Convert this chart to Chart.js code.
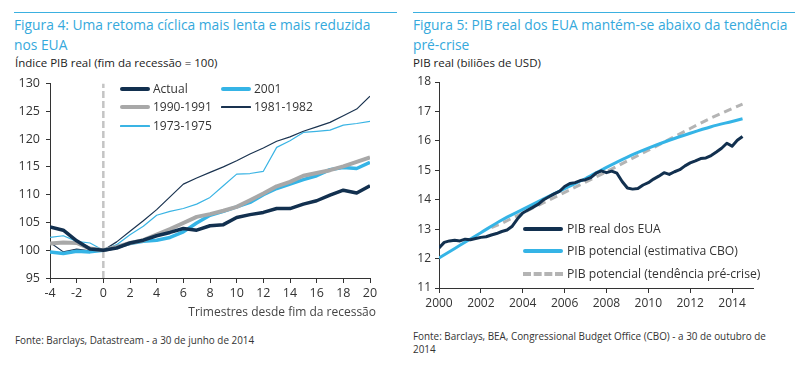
<!DOCTYPE html>
<html>
<head>
<meta charset="utf-8">
<script src="https://cdn.jsdelivr.net/npm/chart.js@4/dist/chart.umd.min.js"></script>
<style>
  html, body { margin: 0; padding: 0; background: #fff; }
  body { width: 803px; height: 366px; position: relative; overflow: hidden; font-family: "Open Sans", "Noto Sans", sans-serif; color: #333; }
  .abs { position: absolute; white-space: nowrap; }
  .rule { position: absolute; height: 1px; background: #3bb0e0; }
  .title { position: absolute; font-size: 13.8px; line-height: 20px; color: #35a9dc; white-space: nowrap; }
  .sub { position: absolute; font-size: 11.5px; color: #222; white-space: nowrap; }
  .src { position: absolute; font-size: 9.9px; color: #333; line-height: 13px; white-space: nowrap; }
  .leg { position: absolute; font-size: 12px; color: #333; white-space: nowrap; line-height: 16px; }
  .sw { position: absolute; }
  canvas { position: absolute; }
</style>
</head>
<body>
<div class="rule" style="left:14px; top:12px; width:383px;"></div>
<div class="rule" style="left:413px; top:12px; width:382px;"></div>

<div class="title" style="left:14px; top:15px;">Figura 4: Uma retoma cíclica mais lenta e mais reduzida<br>nos EUA</div>
<div class="title" style="left:413px; top:15px;">Figura 5: PIB real dos EUA mantém-se abaixo da tendência<br>pré-crise</div>

<div class="sub" style="left:15px; top:55px;">Índice PIB real (fim da recessão = 100)</div>
<div class="sub" style="left:413px; top:55px;">PIB real (biliões de USD)</div>

<canvas id="c1" width="400" height="245" style="left:0px; top:70px;"></canvas>
<canvas id="c2" width="403" height="245" style="left:400px; top:70px;"></canvas>

<div class="abs" style="right:427px; top:303px; font-size:12px; color:#444;">Trimestres desde fim da recessão</div>

<div class="src" style="left:15px; top:334px;">Fonte: Barclays, Datastream - a 30 de junho de 2014</div>
<div class="src" style="left:413px; top:330px;">Fonte: Barclays, BEA, Congressional Budget Office (CBO) - a 30 de outubro de<br>2014</div>

<div id="leg1"></div>
<div id="leg2"></div>

<script>
// ---------- Figure 4 data ----------
const quarters = [-4,-3,-2,-1,0,1,2,3,4,5,6,7,8,9,10,11,12,13,14,15,16,17,18,19,20];
const actualIdx = [104.2,103.6,101.7,100.2,100.0,100.4,101.3,101.8,102.6,103.2,103.9,103.6,104.4,104.6,105.9,106.4,106.8,107.5,107.5,108.3,108.9,109.9,110.8,110.3,111.6];
const rec2001 = [99.7,99.4,99.8,99.7,100.0,100.6,101.2,101.6,101.8,102.3,103.3,104.9,106.3,107.0,107.8,108.6,110.0,111.1,111.9,112.7,113.4,114.5,114.9,114.7,115.8];
const rec1990 = [101.2,101.4,101.3,100.3,100.0,100.6,101.3,101.8,102.8,103.8,104.9,106.0,106.5,107.1,107.8,109.0,110.2,111.5,112.3,113.4,113.9,114.4,115.1,115.9,116.7];
const rec1981 = [101.4,99.7,100.2,99.9,100.0,101.5,103.4,105.3,107.3,109.6,111.9,113.0,114.0,115.0,116.1,117.3,118.4,119.6,120.4,121.4,122.2,123.0,124.2,125.4,127.7];
const rec1973 = [102.3,102.6,101.6,101.3,100.0,101.0,102.8,104.3,106.3,107.0,107.5,108.3,109.5,111.6,113.7,113.8,114.2,118.5,119.7,121.2,121.4,121.6,122.5,122.8,123.2];
const recessionEnd = [0, 0];
const recessionEndY = [95, 130];

// ---------- Figure 5 data ----------
const gdpYears = [2000,2000.25,2000.5,2000.75,2001,2001.25,2001.5,2001.75,2002,2002.25,2002.5,2002.75,2003,2003.25,2003.5,2003.75,2004,2004.25,2004.5,2004.75,2005,2005.25,2005.5,2005.75,2006,2006.25,2006.5,2006.75,2007,2007.25,2007.5,2007.75,2008,2008.25,2008.5,2008.75,2009,2009.25,2009.5,2009.75,2010,2010.25,2010.5,2010.75,2011,2011.25,2011.5,2011.75,2012,2012.25,2012.5,2012.75,2013,2013.25,2013.5,2013.75,2014,2014.25,2014.5];
const gdpReal = [12.36,12.55,12.60,12.62,12.60,12.66,12.64,12.68,12.72,12.74,12.80,12.85,12.92,12.97,13.10,13.35,13.55,13.65,13.75,13.85,14.00,14.10,14.20,14.28,14.45,14.55,14.58,14.65,14.68,14.75,14.90,14.98,14.92,14.97,14.90,14.62,14.40,14.36,14.38,14.50,14.58,14.70,14.80,14.92,14.86,14.95,15.02,15.15,15.25,15.32,15.40,15.42,15.50,15.62,15.75,15.92,15.82,16.02,16.15];
const cboYears = [2000,2001,2002,2003,2004,2005,2006,2007,2008,2009,2010,2011,2012,2013,2014,2014.5];
const cboPotential = [12.02,12.45,12.88,13.31,13.67,14.03,14.38,14.72,15.10,15.45,15.75,16.02,16.26,16.48,16.66,16.75];
const trendYears = [2002.5,2003,2004,2005,2006,2007,2008,2009,2010,2011,2012,2013,2014,2014.5];
const trendPotential = [13.05,13.20,13.55,13.90,14.25,14.60,14.95,15.32,15.68,16.05,16.42,16.78,17.10,17.25];

const NAVY = '#12304f', LBLUE = '#35b4e6', GREY = '#a8a8a8', GREY2 = '#b4b4b4';
const FONT = { family: '"Open Sans", "Noto Sans", sans-serif', size: 12 };

function pts(xs, ys) { return xs.map((x, i) => ({ x: x, y: ys[i] })); }

function axisCommon(extra) {
  return Object.assign({
    type: 'linear',
    border: { display: true, color: '#333', width: 1 },
    grid: { display: true, drawOnChartArea: false, drawTicks: true, tickLength: 4, color: '#333' },
    ticks: { color: '#333', font: FONT, padding: 5, includeBounds: false }
  }, extra);
}

// Figure 4
new Chart(document.getElementById('c1'), {
  type: 'line',
  data: {
    datasets: [
      { label: 'Actual', data: pts(quarters, actualIdx), borderColor: NAVY, borderWidth: 3.5 },
      { label: '1990-1991', data: pts(quarters, rec1990), borderColor: GREY, borderWidth: 4 },
      { label: '2001', data: pts(quarters, rec2001), borderColor: LBLUE, borderWidth: 3.5 },
      { label: '1981-1982', data: pts(quarters, rec1981), borderColor: '#1a3350', borderWidth: 1.2 },
      { label: '1973-1975', data: pts(quarters, rec1973), borderColor: '#3ab4e4', borderWidth: 1.2 },
      { label: 'fim', data: pts(recessionEnd, recessionEndY), borderColor: '#c4c4c4', borderWidth: 2.5, borderDash: [7, 3] }
    ]
  },
  options: {
    responsive: false, animation: false,
    layout: { padding: { top: 13, right: 30, left: 0, bottom: 0 } },
    elements: { point: { radius: 0 }, line: { tension: 0, fill: false, borderCapStyle: 'butt', borderJoinStyle: 'round' } },
    plugins: { legend: { display: false }, tooltip: { enabled: false } },
    scales: {
      x: axisCommon({ min: -4, max: 20, afterFit: s => { s.height = 37; },
        grid: { display: true, drawOnChartArea: false, drawTicks: true, tickLength: 5, color: '#333' },
        ticks: { color: '#333', font: { family: FONT.family, size: 12.5 }, padding: 3, stepSize: 2, includeBounds: false, maxRotation: 0, autoSkip: false } }),
      y: axisCommon({ min: 95, max: 130, afterFit: s => { s.width = 50; },
        ticks: { color: '#333', font: { family: FONT.family, size: 12.5 }, padding: 6, stepSize: 5, includeBounds: false } })
    }
  }
});

// Figure 5
new Chart(document.getElementById('c2'), {
  type: 'line',
  data: {
    datasets: [
      { label: 'PIB real dos EUA', data: pts(gdpYears, gdpReal), borderColor: NAVY, borderWidth: 3, tension: 0 },
      { label: 'PIB potencial (estimativa CBO)', data: pts(cboYears, cboPotential), borderColor: LBLUE, borderWidth: 3, cubicInterpolationMode: 'monotone' },
      { label: 'PIB potencial (tendência pré-crise)', data: pts(trendYears, trendPotential), borderColor: GREY2, borderWidth: 3, borderDash: [8, 5], tension: 0 }
    ]
  },
  options: {
    responsive: false, animation: false,
    layout: { padding: { top: 12, right: 50, left: 0, bottom: 0 } },
    elements: { point: { radius: 0 }, line: { fill: false, borderCapStyle: 'butt', borderJoinStyle: 'round' } },
    plugins: { legend: { display: false }, tooltip: { enabled: false } },
    scales: {
      x: axisCommon({ min: 2000, max: 2015, afterFit: s => { s.height = 27; },
        grid: { display: true, drawOnChartArea: false, drawTicks: true, tickLength: 5, color: '#333' },
        ticks: { color: '#333', font: FONT, padding: 3, stepSize: 2, includeBounds: false, maxRotation: 0, autoSkip: false,
          callback: v => String(v) } }),
      y: axisCommon({ min: 11, max: 18, afterFit: s => { s.width = 39; },
        ticks: { color: '#333', font: FONT, padding: 4, stepSize: 1, includeBounds: false } })
    }
  }
});

// Legends (HTML)
function legendItem(host, x, y, label, color, width, textX) {
  const sw = document.createElement('div');
  sw.className = 'sw';
  sw.style.cssText = 'left:' + x + 'px; top:' + (y - width / 2) + 'px; width:30px; height:' + width + 'px; background:' + color + '; border-radius:' + (width / 2) + 'px;';
  host.appendChild(sw);
  const t = document.createElement('div');
  t.className = 'leg';
  t.style.left = textX + 'px';
  t.style.top = (y - 8) + 'px';
  t.textContent = label;
  host.appendChild(t);
}
const l1 = document.getElementById('leg1');
legendItem(l1, 120, 89, 'Actual', NAVY, 4, 153);
legendItem(l1, 221, 89, '2001', LBLUE, 4, 254);
legendItem(l1, 120, 107, '1990-1991', GREY, 4, 153);
legendItem(l1, 221, 107, '1981-1982', '#1a3350', 1.2, 254);
legendItem(l1, 120, 126, '1973-1975', '#3ab4e4', 1.2, 153);

const l2 = document.getElementById('leg2');
function legendItem2(y, label, color, dashed) {
  const sw = document.createElement('div');
  sw.className = 'sw';
  if (dashed) {
    sw.style.cssText = 'left:523px; top:' + (y - 2) + 'px; width:40px; height:0; border-top:4px dashed ' + color + ';';
  } else {
    sw.style.cssText = 'left:523px; top:' + (y - 2) + 'px; width:40px; height:4px; background:' + color + '; border-radius:2px;';
  }
  l2.appendChild(sw);
  const t = document.createElement('div');
  t.className = 'leg';
  t.style.cssText = 'left:567px; top:' + (y - 8) + 'px; font-size:12.2px;';
  t.textContent = label;
  l2.appendChild(t);
}
legendItem2(229, 'PIB real dos EUA', NAVY, false);
legendItem2(251, 'PIB potencial (estimativa CBO)', LBLUE, false);
legendItem2(274, 'PIB potencial (tendência pré-crise)', GREY2, true);
</script>
</body>
</html>
